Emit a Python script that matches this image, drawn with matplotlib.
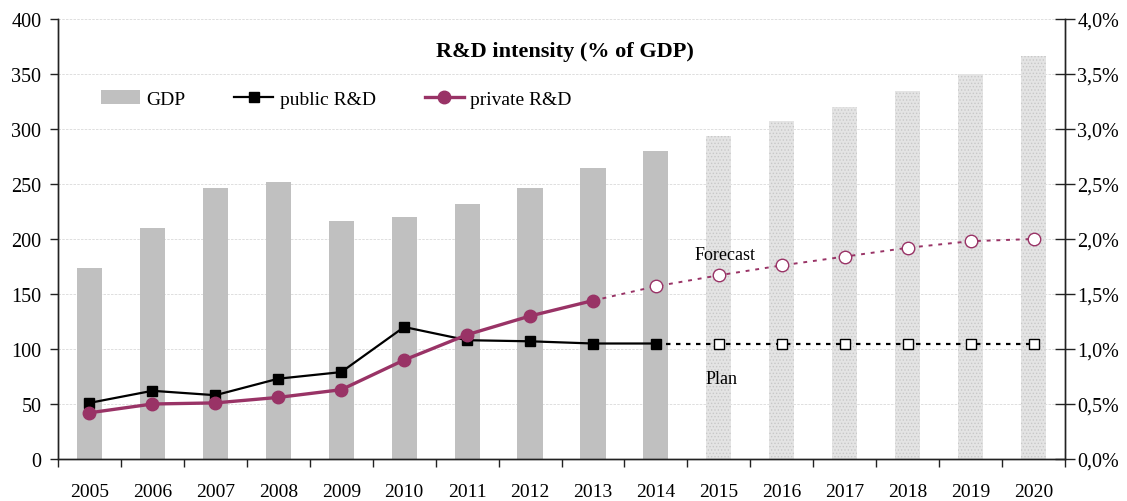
import matplotlib
matplotlib.use("Agg")
import matplotlib.pyplot as plt
from matplotlib.patches import Patch
from matplotlib.lines import Line2D
from matplotlib.ticker import FuncFormatter, MultipleLocator
import numpy as np

years = [2005, 2006, 2007, 2008, 2009, 2010, 2011, 2012, 2013, 2014,
         2015, 2016, 2017, 2018, 2019, 2020]
gdp = [174, 210, 246, 252, 216, 220, 232, 246, 265, 280,
       294, 307, 320, 335, 350, 366]
public_rd = [0.51, 0.62, 0.58, 0.73, 0.79, 1.20, 1.08, 1.07, 1.05, 1.05,
             1.05, 1.05, 1.05, 1.05, 1.05, 1.05]
private_rd = [0.42, 0.50, 0.51, 0.56, 0.63, 0.90, 1.13, 1.30, 1.44, 1.57,
              1.67, 1.76, 1.84, 1.92, 1.98, 2.00]
last_actual_gdp = 2014
last_actual_public = 2014
last_actual_private = 2013

title = "R&D intensity (% of GDP)"
legend_labels = ["GDP", "public R&D", "private R&D"]
note_forecast = "Forecast"
note_plan = "Plan"

plt.rcParams['font.family'] = ['Liberation Serif', 'DejaVu Serif']
plt.rcParams['hatch.color'] = '#c8c8c8'
plt.rcParams['hatch.linewidth'] = 0.6

PURPLE = '#993366'
BAR = '#c0c0c0'
BAR_FC = '#e4e4e4'
AXC = '#222222'

fig = plt.figure(figsize=(11.27, 5.02), dpi=100)
ax = fig.add_axes([58/1127, 1-460/502, (1065-58)/1127, 440/502])
ax2 = ax.twinx()

x = np.arange(len(years))
yr = np.array(years)
gdp_a = np.array(gdp)
pub = np.array(public_rd)
prv = np.array(private_rd)

act = yr <= last_actual_gdp
ax.bar(x[act], gdp_a[act], width=0.4, color=BAR, linewidth=0, zorder=2)
ax.bar(x[~act], gdp_a[~act], width=0.4, color=BAR_FC, hatch='.....',
       edgecolor='#c8c8c8', linewidth=0, zorder=2)

ax.set_xlim(-0.5, len(years) - 0.5)
ax.set_ylim(0, 400)
ax.yaxis.set_major_locator(MultipleLocator(50))
ax.set_axisbelow(True)
ax.grid(axis='y', color='#d9d9d9', linestyle=(0, (3, 1.5)), linewidth=0.6, zorder=0)

# lines on right axis
ia = yr <= last_actual_public
ax2.plot(x[ia], pub[ia], color='black', linewidth=1.6, marker='s',
         markersize=7, markerfacecolor='black', markeredgecolor='black', zorder=5)
ifc = yr >= last_actual_public
ax2.plot(x[ifc], pub[ifc], color='black', linewidth=1.6, linestyle=(0, (2, 2.5)), zorder=4)
ifo = yr > last_actual_public
ax2.plot(x[ifo], pub[ifo], linestyle='none', marker='s', markersize=7,
         markerfacecolor='white', markeredgecolor='black', markeredgewidth=1.0, zorder=5)

pa = yr <= last_actual_private
ax2.plot(x[pa], prv[pa], color=PURPLE, linewidth=2.4, marker='o',
         markersize=9, markerfacecolor=PURPLE, markeredgecolor=PURPLE, zorder=6)
pfc = yr >= last_actual_private
ax2.plot(x[pfc], prv[pfc], color=PURPLE, linewidth=1.4, linestyle=(0, (2, 3)), zorder=4)
pfo = yr > last_actual_private
ax2.plot(x[pfo], prv[pfo], linestyle='none', marker='o', markersize=9,
         markerfacecolor='white', markeredgecolor=PURPLE, markeredgewidth=1.0, zorder=6)

ax2.set_ylim(0, 4.0)
ax2.yaxis.set_major_locator(MultipleLocator(0.5))
ax2.yaxis.set_major_formatter(FuncFormatter(lambda v, p: f"{v:.1f}%".replace('.', ',')))

# x axis ticks
ax.set_xticks(x)
ax.set_xticklabels([str(y) for y in years])
ax.set_xticks(np.arange(-0.5, len(years), 1.0), minor=True)
ax.tick_params(axis='x', which='major', length=0, pad=17, labelsize=14)
ax.tick_params(axis='x', which='minor', length=6, direction='out', color=AXC, width=1)
ax.tick_params(axis='y', which='major', length=6, direction='out', color=AXC, width=1,
               labelsize=14.5, pad=6)
ax2.tick_params(axis='y', which='major', length=14, direction='inout', color=AXC, width=1,
                labelsize=14.5, pad=2)

for a in (ax, ax2):
    a.spines['top'].set_visible(False)
    for s in ('left', 'right', 'bottom'):
        a.spines[s].set_color(AXC)
        a.spines[s].set_linewidth(1.0)

ax.text(0.503, 0.927, title, transform=ax.transAxes, ha='center', va='center',
        fontsize=16, fontweight='bold')
ax2.text(10.1, 1.86, note_forecast, ha='center', va='center', fontsize=13)
ax2.text(10.05, 0.73, note_plan, ha='center', va='center', fontsize=13)

handles = [
    Patch(facecolor=BAR, edgecolor='none'),
    Line2D([], [], color='black', linewidth=1.6, marker='s', markersize=7),
    Line2D([], [], color=PURPLE, linewidth=2.4, marker='o', markersize=9),
]
ax2.legend(handles, legend_labels, loc='center left', bbox_to_anchor=(0.035, 0.818),
           ncol=3, frameon=False, fontsize=14, handlelength=2.0, handleheight=0.7,
           handletextpad=0.35, columnspacing=2.5, borderaxespad=0)

fig.savefig("out.png", dpi=100)
